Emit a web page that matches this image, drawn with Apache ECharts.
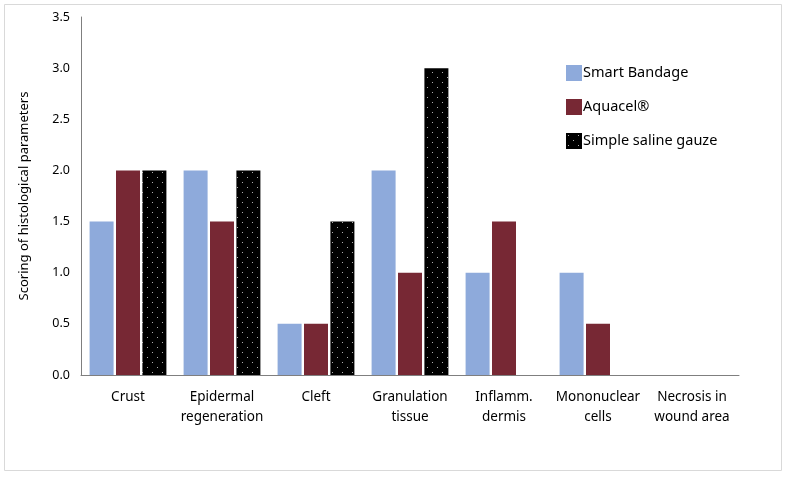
<!DOCTYPE html>
<html><head><meta charset="utf-8">
<script src="https://cdn.jsdelivr.net/npm/echarts@6/dist/echarts.min.js"></script>
<style>html,body{margin:0;padding:0;background:#fff}#c{width:786px;height:477px}</style>
</head><body><div id="c"></div>
<script>
const categories = ["Crust","Epidermal\nregeneration","Cleft","Granulation\ntissue","Inflamm.\ndermis","Mononuclear\ncells","Necrosis in\nwound area"];
const smartBandage = [1.5, 2, 0.5, 2, 1, 1, 0];
const aquacel = [2, 1.5, 0.5, 1, 1.5, 0.5, 0];
const salineGauze = [2, 2, 1.5, 3, 0, 0, 0];
const seriesNames = ["Smart Bandage","Aquacel®","Simple saline gauze"];

function dotPattern(){
  const c = document.createElement('canvas'); c.width = 10; c.height = 10;
  const g = c.getContext('2d');
  g.fillStyle = '#000'; g.fillRect(0,0,10,10);
  g.fillStyle = '#b0b0b0';
  g.fillRect(2,2,1,1); g.fillRect(7,7,1,1);
  return c;
}
const pat = {image: dotPattern(), repeat: 'repeat'};
const font = 'Noto Sans';
const chart = echarts.init(document.getElementById('c'));
chart.setOption({
  animation: false,
  textStyle: {fontFamily: font},
  graphic: [{type:'rect', shape:{x:4.5,y:4.5,width:777,height:466}, style:{fill:'none', stroke:'#d9d9d9', lineWidth:1}, silent:true}],
  grid: {left: 81, right: 47, top: 17, bottom: 102},
  legend: {
    orient: 'vertical', left: 561, top: 60, itemGap: 18, itemWidth: 16, itemHeight: 16,
    icon: 'rect',
    textStyle: {fontSize: 14.5, color: '#000', fontFamily: font, padding: [0,0,0,-4]},
    data: seriesNames
  },
  xAxis: {
    type: 'category', data: categories,
    axisLine: {lineStyle: {color: '#7f7f7f'}},
    axisTick: {show: false},
    axisLabel: {color: '#000', fontSize: 13.5, margin: 12, lineHeight: 20, interval: 0}
  },
  yAxis: {
    type: 'value', min: 0, max: 3.5, interval: 0.5,
    name: 'Scoring of histological parameters', nameLocation: 'middle', nameGap: 50,
    nameTextStyle: {color: '#000', fontSize: 13},
    axisLine: {show: true, lineStyle: {color: '#7f7f7f'}},
    axisTick: {show: false},
    splitLine: {show: false},
    axisLabel: {color: '#000', fontSize: 12.5, margin: 11, formatter: v => v.toFixed(1)}
  },
  series: [
    {name: seriesNames[0], type: 'bar', data: smartBandage, barWidth: 24, barGap: '10%', itemStyle: {color: '#8eaadb'}},
    {name: seriesNames[1], type: 'bar', data: aquacel, barWidth: 24, barGap: '10%', itemStyle: {color: '#772834'}},
    {name: seriesNames[2], type: 'bar', data: salineGauze, barWidth: 24, barGap: '10%', itemStyle: {color: pat}}
  ]
});
</script></body></html>
